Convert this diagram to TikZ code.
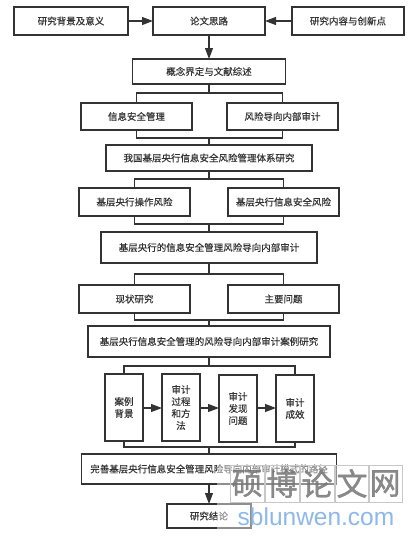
\documentclass[tikz,border=0pt]{standalone}
\usepackage{fontspec}
\setmainfont[FakeBold=0.25]{Noto Sans CJK SC}
\newfontfamily\markfont[FakeBold=1.2]{Noto Sans CJK SC}
\newfontfamily\latinmark{Liberation Sans}
\usetikzlibrary{arrows.meta}
\definecolor{ink}{HTML}{333333}
\definecolor{markgray}{HTML}{777777}
\definecolor{markline}{HTML}{C8C8C8}
\definecolor{markblue}{HTML}{8DB8EA}
\tikzset{
  box/.style={draw=ink,line width=1.1pt,fill=white,inner sep=0pt,outer sep=0pt,text=ink,align=center,
    font=\fontsize{9.5}{12}\selectfont},
  link/.style={draw=ink,line width=1.1pt},
  arrowlink/.style={link,-{Triangle[length=11pt,width=8pt]}},
  markcell/.style={draw=markline,line width=.6pt,minimum width=34pt,minimum height=37pt,inner sep=0pt,outer sep=0pt,
    text=markgray,text opacity=.85,font=\markfont\fontsize{31}{31}\selectfont},
}
\begin{document}
\begin{tikzpicture}[x=1pt,y=-1pt]
\useasboundingbox (0,0) rectangle (419,536);
% top row
\node[box,minimum width=114pt,minimum height=28pt] (bg) at (71,21) {研究背景及意义};
\node[box,minimum width=112pt,minimum height=28pt] (idea) at (209,21) {论文思路};
\node[box,minimum width=112pt,minimum height=28pt] (content) at (348,21) {研究内容与创新点};
\node[box,minimum width=153pt,minimum height=25pt] (concept) at (209,71.5) {概念界定与文献综述};
\node[box,minimum width=111pt,minimum height=27pt] (infosec) at (136.5,116.5) {信息安全管理};
\node[box,minimum width=111pt,minimum height=27pt] (riskaudit) at (282.5,116.5) {风险导向内部审计};
\node[box,minimum width=206pt,minimum height=26pt] (system) at (209,158) {我国基层央行信息安全风险管理体系研究};
\node[box,minimum width=111pt,minimum height=28pt] (oprisk) at (134.5,202) {基层央行操作风险};
\node[box,minimum width=111pt,minimum height=28pt] (secrisk) at (283.5,202) {基层央行信息安全风险};
\node[box,minimum width=216pt,minimum height=31pt] (audit) at (209,247.5) {基层央行的信息安全管理风险导向内部审计};
\node[box,minimum width=111pt,minimum height=28pt] (status) at (134.5,299) {现状研究};
\node[box,minimum width=111pt,minimum height=28pt] (problem) at (283.5,299) {主要问题};
\node[box,minimum width=242pt,minimum height=31pt] (casestudy) at (209,341.5) {基层央行信息安全管理的风险导向内部审计案例研究};
\node[box,minimum width=38pt,minimum height=67pt] (c1) at (124,407.5) {案例\\背景};
\node[box,minimum width=38pt,minimum height=67pt] (c2) at (181,407.5) {审计\\过程\\和方\\法};
\node[box,minimum width=38pt,minimum height=67pt] (c3) at (238,408.5) {审计\\发现\\问题};
\node[box,minimum width=38pt,minimum height=67pt] (c4) at (295,408.5) {审计\\成效};
\node[box,minimum width=255pt,minimum height=30pt] (improve) at (209,469) {完善基层央行信息安全管理风险导向内部审计模式的路径};
\node[box,minimum width=84pt,minimum height=24pt] (end) at (209,516) {研究结论};
% bus points
\coordinate (b1) at (209,93);
\coordinate (b2) at (209,138);
\coordinate (b3) at (209,179);
\coordinate (b4) at (209,224);
\coordinate (b5) at (209,274);
\coordinate (b6) at (209,320);
\coordinate (b7) at (209,366);
\coordinate (b8) at (209,447);
% arrows
\draw[arrowlink] (bg) -- (idea);
\draw[arrowlink] (content) -- (idea);
\draw[arrowlink] (idea) -- (concept);
\draw[arrowlink] (c1.east |- 0,408) -- (c2.west |- 0,408);
\draw[arrowlink] (c2.east |- 0,408) -- (c3.west |- 0,408);
\draw[arrowlink] (c3.east |- 0,408) -- (c4.west |- 0,408);
\draw[arrowlink] (improve) -- (end);
% splits and merges
\draw[link] (concept) -- (b1);
\draw[link] (infosec.north) |- (b1) -| (riskaudit.north);
\draw[link] (infosec.south) |- (b2) -| (riskaudit.south);
\draw[link] (b2) -- (system);
\draw[link] (system) -- (b3);
\draw[link] (oprisk.north) |- (b3) -| (secrisk.north);
\draw[link] (oprisk.south) |- (b4) -| (secrisk.south);
\draw[link] (b4) -- (audit);
\draw[link] (audit) -- (b5);
\draw[link] (status.north) |- (b5) -| (problem.north);
\draw[link] (status.south) |- (b6) -| (problem.south);
\draw[link] (b6) -- (casestudy);
\draw[link] (casestudy) -- (b7);
\draw[link] (c1.north) |- (b7) -| (c4.north);
\draw[link] (c1.south) |- (b8) -| (c4.south);
\draw[link] (b8) -- (improve);
% site mark printed over the picture
\fill[white,opacity=.45] (217,465) rectangle (403,530);
\node[markcell] (m1) at (247,483.5) {硕};
\node[markcell] (m2) at (282,483.5) {博};
\node[markcell] (m3) at (317,483.5) {论};
\node[markcell] (m4) at (352,483.5) {文};
\node[markcell] (m5) at (385,483.5) {网};
\node[inner sep=0pt,text=markblue,font=\latinmark\fontsize{24.5}{24.5}\selectfont] (site) at (316,517) {sblunwen.com};
\end{tikzpicture}
\end{document}
